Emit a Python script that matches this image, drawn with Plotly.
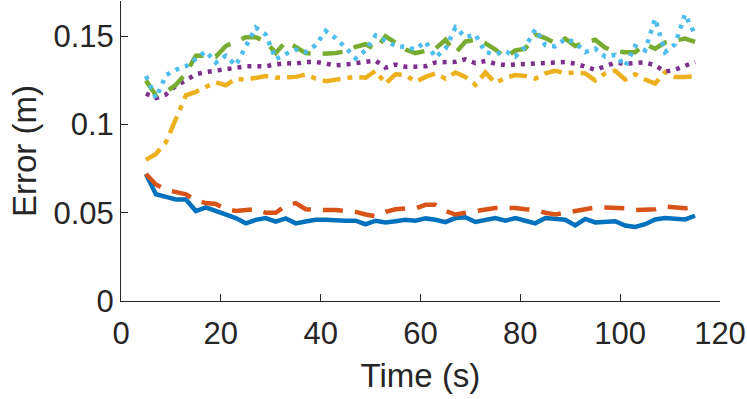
import plotly.graph_objs as go

# time samples (s)
time_s = list(range(5, 116, 2))

err_blue = [0.072, 0.0605, 0.059, 0.0575, 0.0575, 0.051, 0.053, 0.051, 0.049, 0.047,
            0.044, 0.046, 0.047, 0.045, 0.0468, 0.044, 0.045, 0.046, 0.046, 0.0455,
            0.0455, 0.0455, 0.0435, 0.0455, 0.0445, 0.0452, 0.046, 0.0455, 0.0468, 0.046,
            0.0447, 0.047, 0.0475, 0.0448, 0.046, 0.047, 0.0455, 0.047, 0.0455, 0.044,
            0.047, 0.0465, 0.046, 0.0428, 0.0465, 0.0445, 0.045, 0.0452, 0.0428, 0.042,
            0.0435, 0.0462, 0.047, 0.0468, 0.0462, 0.0483]

err_orange = [0.072, 0.066, 0.063, 0.062, 0.0605, 0.057, 0.0555, 0.055, 0.052, 0.051,
              0.0515, 0.052, 0.050, 0.050, 0.054, 0.0555, 0.052, 0.0515, 0.0515, 0.0515,
              0.051, 0.0505, 0.049, 0.048, 0.0505, 0.052, 0.0525, 0.0525, 0.0545, 0.0545,
              0.051, 0.049, 0.050, 0.051, 0.052, 0.0527, 0.0527, 0.0527, 0.052, 0.0515,
              0.050, 0.049, 0.050, 0.051, 0.052, 0.053, 0.053, 0.053, 0.0525, 0.0515,
              0.0515, 0.052, 0.0535, 0.053, 0.0525, 0.053]

err_yellow = [0.080, 0.0833, 0.090, 0.103, 0.1165, 0.1185, 0.121, 0.124, 0.1222, 0.126,
              0.1254, 0.1265, 0.1275, 0.1265, 0.1265, 0.127, 0.1284, 0.126, 0.1246, 0.1254,
              0.1265, 0.127, 0.1265, 0.1305, 0.1231, 0.1285, 0.128, 0.1242, 0.127, 0.129,
              0.126, 0.1295, 0.127, 0.1225, 0.1295, 0.1235, 0.1265, 0.128, 0.1275, 0.126,
              0.129, 0.1305, 0.129, 0.1295, 0.129, 0.125, 0.129, 0.1305, 0.1255, 0.1285,
              0.1255, 0.1232, 0.1297, 0.127, 0.127, 0.1273]

err_purple = [0.1175, 0.115, 0.117, 0.122, 0.125, 0.1285, 0.1297, 0.1305, 0.1315, 0.132,
              0.133, 0.133, 0.133, 0.134, 0.1348, 0.1345, 0.1355, 0.1355, 0.1345, 0.1335,
              0.134, 0.135, 0.1355, 0.1362, 0.1322, 0.134, 0.1328, 0.1328, 0.133, 0.1352,
              0.1354, 0.1355, 0.137, 0.1348, 0.136, 0.1345, 0.1337, 0.134, 0.1343, 0.1343,
              0.135, 0.1354, 0.1354, 0.1345, 0.1325, 0.131, 0.133, 0.135, 0.1345, 0.1348,
              0.1352, 0.1335, 0.130, 0.131, 0.133, 0.1355]

err_green = [0.125, 0.1165, 0.1185, 0.1225, 0.129, 0.139, 0.139, 0.1385, 0.1445, 0.147,
             0.1495, 0.1495, 0.147, 0.1405, 0.147, 0.144, 0.1405, 0.140, 0.140, 0.1405,
             0.1415, 0.144, 0.1455, 0.1425, 0.150, 0.146, 0.1425, 0.1405, 0.142, 0.143,
             0.148, 0.1405, 0.147, 0.148, 0.146, 0.1425, 0.138, 0.142, 0.143, 0.151,
             0.149, 0.146, 0.1487, 0.1445, 0.1465, 0.148, 0.1435, 0.1415, 0.141, 0.141,
             0.1455, 0.143, 0.1465, 0.1475, 0.1487, 0.1468]

err_cyan = [0.1275, 0.115, 0.128, 0.131, 0.133, 0.1373, 0.1415, 0.135, 0.139, 0.1335,
            0.144, 0.155, 0.151, 0.137, 0.140, 0.1425, 0.141, 0.145, 0.153, 0.149,
            0.1435, 0.1375, 0.142, 0.1505, 0.1475, 0.1445, 0.144, 0.1425, 0.147, 0.138,
            0.143, 0.155, 0.1495, 0.151, 0.141, 0.140, 0.1415, 0.1385, 0.144, 0.154,
            0.145, 0.1443, 0.1485, 0.1465, 0.141, 0.143, 0.1385, 0.1395, 0.133, 0.1445,
            0.142, 0.160, 0.141, 0.1455, 0.1625, 0.151]

x_ticks = [0, 20, 40, 60, 80, 100, 120]
y_ticks = [0, 0.05, 0.1, 0.15]
y_ticklabels = ['0', '0.05', '0.1', '0.15']

font = 'Liberation Sans, Arial, sans-serif'
axcol = '#262626'

def line(y, color, dash):
    return go.Scatter(x=time_s, y=y, mode='lines', showlegend=False,
                      line=dict(color=color, width=4.5, dash=dash))

data = [
    line(err_blue, '#0072BD', 'solid'),
    line(err_orange, '#D95319', '20px,12px'),
    line(err_yellow, '#EDB120', '18px,7px,5px,7px'),
    line(err_purple, '#7E2F8E', '4px,6px'),
    line(err_green, '#77AC30', '20px,12px'),
    line(err_cyan, '#4DBEEE', '4px,6px'),
]

layout = go.Layout(
    width=747, height=399,
    paper_bgcolor='white', plot_bgcolor='white',
    margin=dict(l=121, r=27, t=1, b=98),
    font=dict(family=font, size=31, color=axcol),
    xaxis=dict(range=[0, 120], tickvals=x_ticks, ticks='inside', ticklen=7,
               tickcolor=axcol, showline=True, linecolor=axcol, linewidth=1,
               showgrid=False, zeroline=False, automargin=False,
               ticklabelstandoff=5,
               title=dict(text='Time (s)', font=dict(size=33), standoff=13)),
    yaxis=dict(range=[0, 0.17], tickvals=y_ticks, ticktext=y_ticklabels,
               ticks='inside', ticklen=7, tickcolor=axcol, showline=True,
               linecolor=axcol, linewidth=1, showgrid=False, zeroline=False,
               automargin=False,
               title=dict(text='Error (m)', font=dict(size=33), standoff=6)),
)

fig = go.Figure(data=data, layout=layout)
# page body has a default 8px margin; drop it so the figure sits at the corner
fig.write_html("out.html", config={'displayModeBar': False},
               post_script="document.body.style.margin='0';")
